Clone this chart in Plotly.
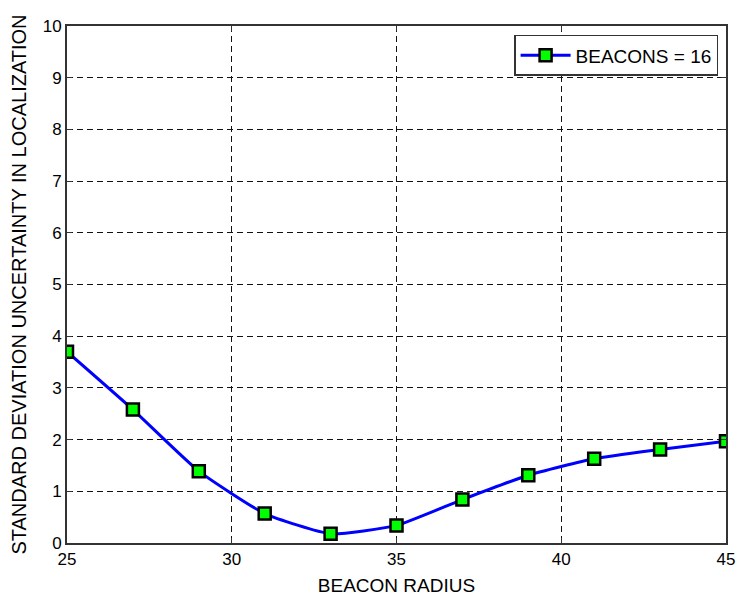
import plotly.graph_objects as go

# Beacon radius vs. localization uncertainty (16 beacons)
beacon_radius = [25, 27, 29, 31, 33, 35, 37, 39, 41, 43, 45]
std_uncertainty = [3.70, 2.58, 1.39, 0.57, 0.18, 0.34, 0.84, 1.31, 1.63, 1.81, 1.97]
series_name = "BEACONS = 16"
x_ticks = [25, 30, 35, 40, 45]
y_ticks = list(range(0, 11))

font_family = "Liberation Sans, Arial, sans-serif"

fig = go.Figure()
fig.add_trace(go.Scatter(
    x=beacon_radius,
    y=std_uncertainty,
    mode="lines+markers",
    name=series_name,
    line=dict(color="#0000ff", width=3, shape="spline", smoothing=0.5),
    marker=dict(symbol="square", size=12, color="#00ff00",
                line=dict(color="black", width=2.5)),
))

axis_common = dict(
    showline=True, linecolor="#333", linewidth=2, mirror="ticks",
    ticks="inside", ticklen=5, tickcolor="#333",
    showgrid=True, gridcolor="#111", griddash="6px,4px", gridwidth=1.3,
    zeroline=False,
    tickfont=dict(family=font_family, size=17, color="black"),
)

fig.update_xaxes(
    range=[25, 45], tickvals=x_ticks,
    title=dict(text="BEACON RADIUS", font=dict(family=font_family, size=19, color="black"), standoff=10),
    **axis_common,
)
fig.update_yaxes(
    range=[0, 10], tickvals=y_ticks,
    title=dict(text="STANDARD DEVIATION UNCERTAINTY IN LOCALIZATION",
               font=dict(family=font_family, size=20, color="black"), standoff=11),
    **axis_common,
)

fig.update_layout(
    width=736, height=599,
    margin=dict(l=67, r=10, t=26, b=56, autoexpand=False),
    paper_bgcolor="white", plot_bgcolor="white",
    showlegend=True,
    legend=dict(
        x=0.988, y=0.983, xanchor="right", yanchor="top",
        bgcolor="white", bordercolor="#333", borderwidth=1.5,
        itemwidth=50,
        font=dict(family=font_family, size=19, color="black"),
    ),
)

fig.write_html("out.html")
